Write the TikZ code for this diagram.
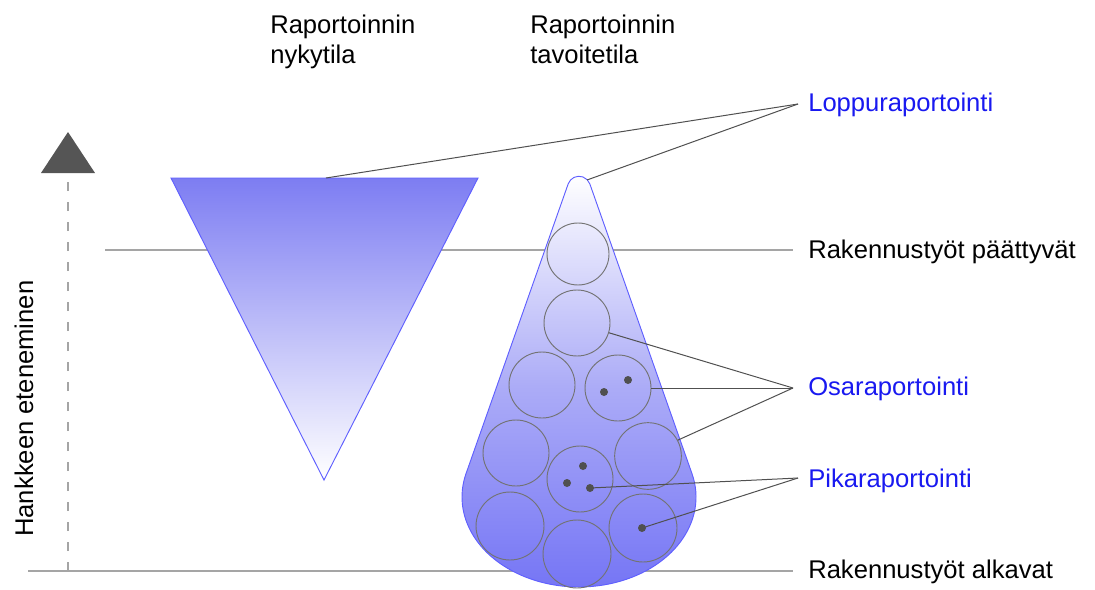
\documentclass[tikz,border=0pt]{standalone}
\usepackage{fontspec}
\setmainfont{Liberation Sans}
\definecolor{gline}{RGB}{165,165,165}
\definecolor{conn}{RGB}{80,80,80}
\definecolor{ringc}{RGB}{115,115,115}
\definecolor{dotc}{RGB}{80,80,80}
\definecolor{edgeblue}{RGB}{95,95,255}
\definecolor{lblblue}{RGB}{25,25,240}
\definecolor{tritop}{RGB}{125,125,242}
\definecolor{dropbot}{RGB}{115,115,245}
\definecolor{dropmid}{RGB}{172,172,247}
\definecolor{arrowc}{RGB}{85,85,85}
\begin{document}
\begin{tikzpicture}[x=0.75pt,y=-0.75pt,
  txt/.style={inner sep=0pt, anchor=base west, font=\fontsize{19.2pt}{22.5pt}\selectfont},
  bluetxt/.style={txt, text=lblblue},
  guide/.style={draw=gline, line width=0.9pt},
  connector/.style={draw=conn, line width=0.75pt},
  ring/.style={circle, draw=ringc, line width=0.7pt, inner sep=0pt},
  spot/.style={circle, fill=dotc, inner sep=0pt, minimum size=6pt}]
\useasboundingbox (0,0) rectangle (1095,589);

% guide lines
\coordinate (gTl) at (105,250);
\coordinate (gTr) at (793,250);
\coordinate (gBl) at (28,571);
\coordinate (gBr) at (793,571);
\draw[guide] (gTl) -- (gTr);
\draw[guide] (gBl) -- (gBr);

% axis arrow
\coordinate (ax0) at (68,571);
\coordinate (ax1) at (68,176);
\draw[draw=gline, line width=0.9pt, dash pattern=on 7pt off 8pt] (ax0) -- (ax1);
\fill[arrowc] (41,173) -- (68,132) -- (95,173) -- cycle;
\node[txt, rotate=90] (axis) at (33,537) {Hankkeen eteneminen};

% headers
\node[txt] (h1a) at (270,33) {Raportoinnin};
\node[txt] (h1b) at (270,63) {nykytila};
\node[txt] (h2a) at (530,33) {Raportoinnin};
\node[txt] (h2b) at (530,63) {tavoitetila};

% inverted triangle
\path[draw=edgeblue, line width=0.7pt, top color=tritop, bottom color=white]
  (171,178) -- (478,178) -- (324,480) -- cycle;

% droplet
\path[draw=edgeblue, line width=0.7pt, top color=white, bottom color=dropbot, middle color=dropmid]
  (466.1,473.4) -- (568.15,183.94) arc[start angle=199.43, end angle=340.57, radius=11.5]
  -- (691.9,473.4) arc[start angle=-15.2, end angle=195.2, x radius=117, y radius=90] -- cycle;

% circles
\node[ring, minimum size=46.5pt] (c1) at (578,254) {};
\node[ring, minimum size=49.5pt] (c2) at (577,323) {};
\node[ring, minimum size=49.5pt] (c3) at (542,385) {};
\node[ring, minimum size=49.5pt] (c4) at (618,388) {};
\node[ring, minimum size=49.5pt] (c5) at (516,453) {};
\node[ring, minimum size=49.5pt] (c6) at (580,479) {};
\node[ring, minimum size=50pt] (c7) at (648,456) {};
\node[ring, minimum size=51pt] (c8) at (510,526) {};
\node[ring, minimum size=51pt] (c9) at (577,554) {};
\node[ring, minimum size=51pt] (c10) at (643,528) {};

% dots
\node[spot] (d1) at (628,380) {};
\node[spot] (d2) at (604,392) {};
\node[spot] (d3) at (583,466) {};
\node[spot] (d4) at (567,483) {};
\node[spot] (d5) at (590,488) {};
\node[spot] (d6) at (642,528) {};

% right labels
\node[bluetxt] (lopp) at (808,111.5) {Loppuraportointi};
\node[txt] (paat) at (808,258.3) {Rakennustyöt päättyvät};
\node[bluetxt] (osa) at (808,395) {Osaraportointi};
\node[bluetxt] (pika) at (808,487.7) {Pikaraportointi};
\node[txt] (alk) at (808,578.3) {Rakennustyöt alkavat};

% connector convergence points
\coordinate (lp) at (798,104);
\coordinate (op) at (793,388);
\coordinate (pp) at (798,478);
\coordinate (tritopc) at (326,178);
\coordinate (droptip) at (587,180);

\draw[connector] (tritopc) -- (lp);
\draw[connector] (droptip) -- (lp);
\draw[connector] (c2.-17) -- (op);
\draw[connector] (c4.east) -- (op);
\draw[connector] (c7.28) -- (op);
\draw[connector] (d5.center) -- (pp);
\draw[connector] (d6.center) -- (pp);
\end{tikzpicture}
\end{document}
